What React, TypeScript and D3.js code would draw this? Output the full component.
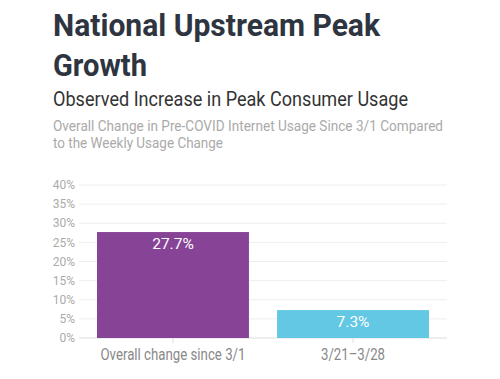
import React from "react";
import * as d3 from "d3";

const categories = ["Overall change since 3/1", "3/21–3/28"];
const values = [27.7, 7.3];
const valueLabels = ["27.7%", "7.3%"];
const barColors = ["#874497", "#62c8e3"];
const yTicks = [0, 5, 10, 15, 20, 25, 30, 35, 40];
const catLabelWidths = [145, 64];

const W = 500;
const H = 379;

export default function App() {
  const x = d3
    .scaleBand<string>()
    .domain(categories)
    .range([79, 447])
    .paddingInner(0.156)
    .paddingOuter(0.1);
  const y = d3.scaleLinear().domain([0, 40]).range([338, 185]);
  const font = "Roboto, 'Noto Sans', sans-serif";

  return (
    <svg
      width={W}
      height={H}
      style={{ position: "absolute", left: 0, top: 0, background: "#fff" }}
      fontFamily={font}
    >
      <text x={53} y={36} fontSize={30.5} fontWeight={700} fill="#2e3540" textLength={327} lengthAdjust="spacingAndGlyphs">
        National Upstream Peak
      </text>
      <text x={53} y={76} fontSize={30.5} fontWeight={700} fill="#2e3540" textLength={94} lengthAdjust="spacingAndGlyphs">
        Growth
      </text>
      <text x={53} y={106} fontSize={20} fill="#333" textLength={355} lengthAdjust="spacingAndGlyphs">
        Observed Increase in Peak Consumer Usage
      </text>
      <text x={53} y={131} fontSize={15} fill="#aaa" textLength={390} lengthAdjust="spacingAndGlyphs">
        Overall Change in Pre-COVID Internet Usage Since 3/1 Compared
      </text>
      <text x={53} y={148} fontSize={15} fill="#aaa" textLength={170} lengthAdjust="spacingAndGlyphs">
        to the Weekly Usage Change
      </text>

      {yTicks.map((t) => (
        <g key={t}>
          <line x1={79} x2={447} y1={y(t)} y2={y(t)} stroke={t === 0 ? "#ddd" : "#eee"} strokeWidth={1} />
          <text x={75} y={y(t)} dy="0.35em" textAnchor="end" fontSize={12} fill="#aaa">
            {t}%
          </text>
        </g>
      ))}

      {categories.map((c, i) => {
        const bx = x(c)!;
        const bw = x.bandwidth();
        const cx = bx + bw / 2;
        return (
          <g key={c}>
            <rect x={bx} y={y(values[i])} width={bw} height={y(0) - y(values[i])} fill={barColors[i]} />
            <text x={cx} y={y(values[i]) + 16.5} textAnchor="middle" fontSize={15.5} fill="#fff">
              {valueLabels[i]}
            </text>
            <line x1={cx} x2={cx} y1={338} y2={343} stroke="#ddd" />
            <text
              x={cx}
              y={360}
              textAnchor="middle"
              fontSize={16}
              fill="#888"
              textLength={catLabelWidths[i]}
              lengthAdjust="spacingAndGlyphs"
            >
              {c}
            </text>
          </g>
        );
      })}
    </svg>
  );
}
